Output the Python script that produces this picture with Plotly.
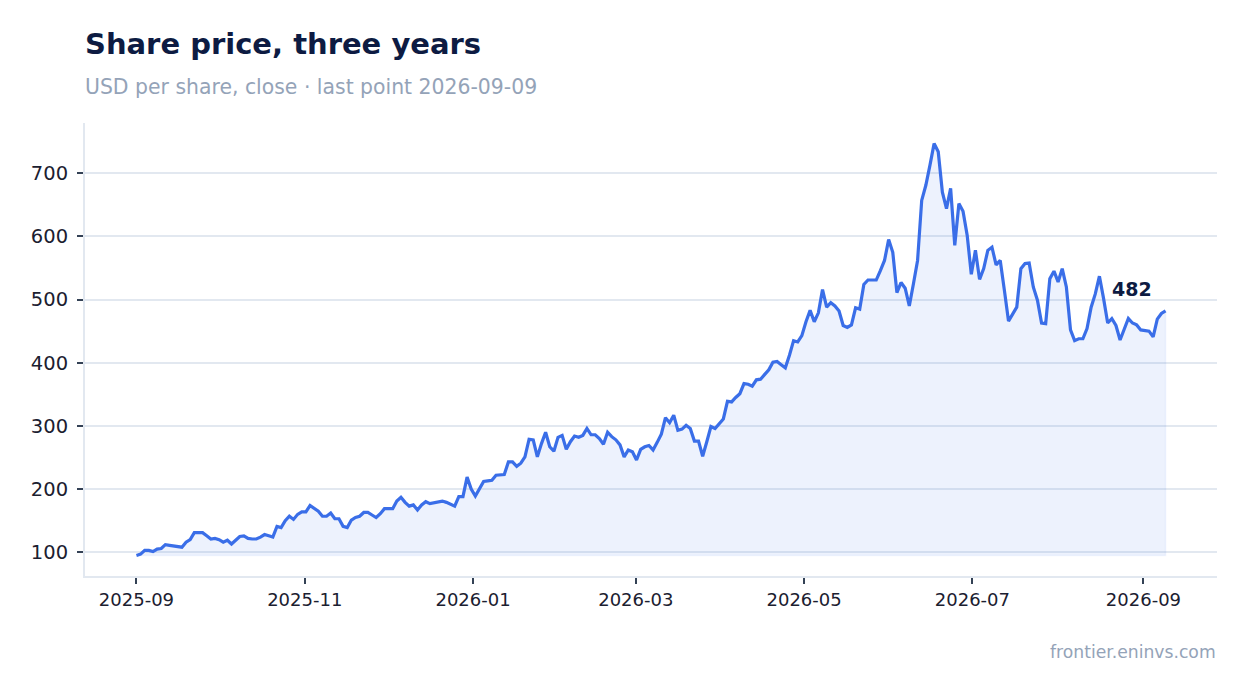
import pandas as pd
import plotly.graph_objects as go

# ---- data ----
start_date = "2025-09-01"
end_date = "2026-09-09"

close_part1 = [95, 97, 103, 103, 101, 105, 106, 112, 111, 110, 108, 108, 116, 120, 131, 131, 131,
               126, 121, 122, 120, 116, 119, 113, 119, 125, 126, 122, 121, 121, 124, 128, 126, 124,
               141, 139, 150, 157, 152, 160, 164, 164, 174, 170, 165, 157, 157, 162, 153, 153, 141,
               139, 151, 155, 157, 163, 163, 159, 155, 161, 169, 169, 169, 181, 187, 179, 173, 175,
               167, 175, 180, 177, 178, 179, 181, 179, 176, 173, 188, 188, 219, 200, 189, 200, 212,
               213, 214, 222]
close_part2 = [222, 223, 243, 243, 236, 241, 251, 279, 278, 251, 272, 290, 267, 260, 282, 285, 263,
               275, 284, 282, 285, 296, 286, 286, 280, 271, 290, 283, 278, 270, 251, 262, 259, 246,
               263, 267, 269, 262, 274, 287, 313, 305, 317, 293, 295, 301, 296, 276, 276, 252, 275,
               299, 296, 304, 311, 339, 338, 345, 351, 367, 366, 363, 373, 374, 382, 389, 401, 402,
               397, 392, 412, 435]
close_part3 = [433, 443, 465, 483, 465, 479, 516, 488, 495, 490, 482, 459, 456, 460, 487, 485, 524,
               531, 531, 531, 546, 562, 595, 575, 511, 527, 518, 490, 525, 562, 657, 681, 713, 747,
               734, 670, 644, 676, 586, 652, 640, 602, 540, 578, 532, 549, 578, 583, 555, 562, 515,
               466, 477, 488, 549, 557, 558, 520, 499, 463, 462, 533, 545, 528, 549, 520, 452, 435,
               438, 438, 454, 488, 509, 537, 502, 463, 470, 459, 436, 452, 470, 463, 460, 452, 451,
               450, 441, 469, 478, 482]

x_tick_dates = ["2025-09-01", "2025-11-01", "2026-01-01", "2026-03-01", "2026-05-01", "2026-07-01", "2026-09-01"]
x_tick_labels = ["2025-09", "2025-11", "2026-01", "2026-03", "2026-05", "2026-07", "2026-09"]
y_tick_values = [100, 200, 300, 400, 500, 600, 700]

title_text = "Share price, three years"
subtitle_text = "USD per share, close · last point 2026-09-09"
source_text = "frontier.eninvs.com"

# ---- build ----
close = close_part1 + close_part2 + close_part3
dates = pd.date_range(start_date, end_date, periods=len(close))
base = min(close)

LINE = "#3a6ee8"
FILL = "rgba(58,110,232,0.09)"
GRID = "#e2e8f0"
DARK = "#0d1b42"
GREY = "#94a3b8"
TICK = "#1b2030"
FONT = "DejaVu Sans"

W, H = 1247, 693

fig = go.Figure()
poly_x = list(dates) + [dates[-1], dates[0]]
poly_y = close + [base, base]
fig.add_trace(go.Scatter(x=poly_x, y=poly_y, mode="lines", fill="toself", fillcolor=FILL,
                         line=dict(color="rgba(58,110,232,0.06)", width=1.5),
                         hoverinfo="skip", showlegend=False))
fig.add_trace(go.Scatter(x=dates, y=close, mode="lines",
                         line=dict(color=LINE, width=3.2), showlegend=False))

span_x = dates[-1] - dates[0]
x_range = [dates[0] - span_x * 0.05, dates[-1] + span_x * 0.05]
span_y = max(close) - min(close)
y_range = [min(close) - span_y * 0.05, max(close) + span_y * 0.05]

fig.add_annotation(x=dates[-1], y=close[-1], xref="x", yref="y", text=f"<b>{close[-1]}</b>",
                   showarrow=False, xanchor="right", yanchor="middle", xshift=-12, yshift=22,
                   font=dict(family=FONT, size=19, color=DARK))
fig.add_annotation(x=0, y=1.0795, xref="paper", yref="paper", text=subtitle_text,
                   showarrow=False, xanchor="left", yanchor="middle", xshift=-2,
                   font=dict(family=FONT, size=20.4, color=GREY))
fig.add_annotation(x=1, y=-0.168, xref="paper", yref="paper", text=source_text,
                   showarrow=False, xanchor="right", yanchor="middle", xshift=1,
                   font=dict(family=FONT, size=17.2, color=GREY))

fig.update_layout(
    width=W, height=H,
    margin=dict(l=77, r=38, t=115, b=125),
    paper_bgcolor="white", plot_bgcolor="white",
    title=dict(text=f"<b>{title_text}</b>", x=77 / W, xanchor="left", xref="container",
               y=1 - 36 / H, yanchor="middle", yref="container",
               font=dict(family=FONT, size=29, color=DARK)),
    font=dict(family=FONT, color=TICK),
)
fig.update_xaxes(range=x_range, tickvals=x_tick_dates, ticktext=x_tick_labels,
                 showgrid=False, showline=True, linecolor=GRID, linewidth=2,
                 ticks="outside", ticklen=6, tickwidth=2, tickcolor="#334155",
                 tickfont=dict(family=FONT, size=18, color=TICK), zeroline=False)
fig.update_yaxes(range=y_range, tickvals=y_tick_values,
                 showgrid=True, gridcolor=GRID, gridwidth=1.5,
                 showline=True, linecolor=GRID, linewidth=2,
                 ticks="outside", ticklen=6, tickwidth=2, tickcolor="#334155",
                 ticklabelstandoff=5,
                 tickfont=dict(family=FONT, size=19.5, color=TICK), zeroline=False)

fig.write_html("out.html")
